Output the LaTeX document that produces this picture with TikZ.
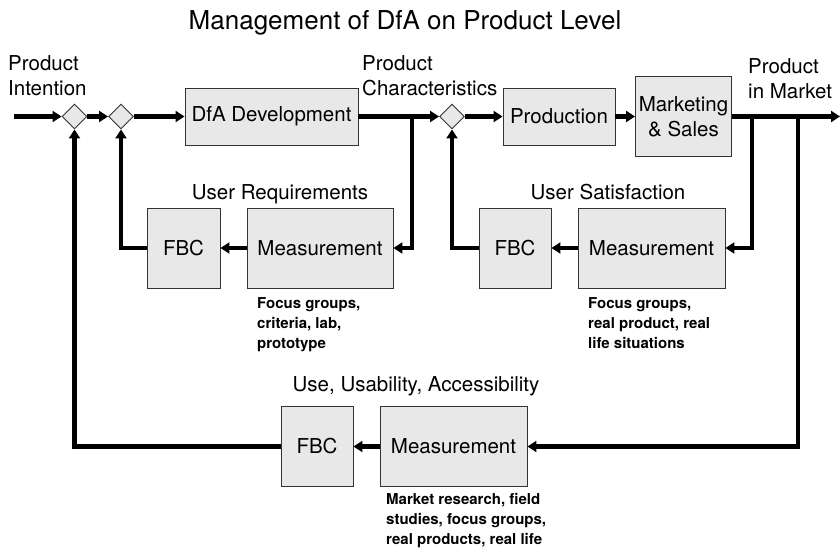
\documentclass[tikz,border=0pt]{standalone}
\usepackage{fontspec}
\setmainfont{TeX Gyre Heros}
\usetikzlibrary{shapes.geometric,arrows.meta}

\begin{document}
\begin{tikzpicture}[x=1pt,y=-1pt,
  block/.style={draw=black!80,fill=black!9,line width=0.9pt,inner sep=0pt,
    font=\fontsize{20.5}{25}\selectfont,align=center},
  junction/.style={diamond,draw=black!80,fill=black!9,line width=0.9pt,
    inner sep=0pt,minimum width=25pt,minimum height=25pt},
  wire/.style={line width=4.2pt},
  flow/.style={wire,-{Triangle[length=9pt,width=11pt]}},
  caption/.style={font=\fontsize{20.5}{25}\selectfont,inner sep=0pt},
  note/.style={font=\bfseries\fontsize{15}{20}\selectfont,align=left,
    anchor=north west,inner sep=0pt}]

\useasboundingbox (0,0) rectangle (840,548);

\node[font=\fontsize{26}{30}\selectfont,anchor=base,inner sep=0pt] (title) at (405,30) {Management of DfA on Product Level};

% forward path
\coordinate (in) at (14,116.5);
\coordinate (out) at (840,116.5);
\node[junction] (d1) at (74.5,116.5) {};
\node[junction] (d2) at (121,116.5) {};
\node[block,minimum width=173pt,minimum height=57pt] (dfa) at (271.5,116.5) {DfA Development};
\node[junction] (d3) at (452,116.5) {};
\node[block,minimum width=112pt,minimum height=57pt] (prod) at (559,116.5) {Production};
\node[block,minimum width=96pt,minimum height=80pt] (mkt) at (683.5,116.5) {Marketing\\\& Sales};

% feedback blocks
\node[block,minimum width=146pt,minimum height=80pt] (meas1) at (320,248) {Measurement};
\node[block,minimum width=73pt,minimum height=80pt] (fbc1) at (183.5,248) {FBC};
\node[block,minimum width=147pt,minimum height=80pt] (meas2) at (651.5,248) {Measurement};
\node[block,minimum width=72pt,minimum height=80pt] (fbc2) at (515,248) {FBC};
\node[block,minimum width=147pt,minimum height=80pt] (meas3) at (453.5,446.5) {Measurement};
\node[block,minimum width=72pt,minimum height=80pt] (fbc3) at (317,446.5) {FBC};

% labels
\node[caption,anchor=north west,align=left] (intention) at (8,55) {Product\\Intention};
\node[caption,anchor=north west,align=left] (characteristics) at (362,55) {Product\\Characteristics};
\node[caption,anchor=north west,align=left] (market) at (748,58) {Product\\in Market};
\node[caption,anchor=base] (req) at (280,200) {User Requirements};
\node[caption,anchor=base] (sat) at (608,200) {User Satisfaction};
\node[caption,anchor=base] (use) at (416,391) {Use, Usability, Accessibility};

\node[note] (note1) at (257,297) {Focus groups,\\criteria, lab,\\prototype};
\node[note] (note2) at (588,297) {Focus groups,\\real product, real\\life situations};
\node[note] (note3) at (386,493) {Market research, field\\studies, focus groups,\\real products, real life};

\draw[flow] (in) -- (d1);
\draw[flow] (d1) -- (d2);
\draw[flow] (d2) -- (dfa);
\draw[flow] (dfa) -- (d3);
\draw[flow] (d3) -- (prod);
\draw[flow] (prod) -- (mkt);
\draw[flow] (mkt) -- (out);

% loops
\coordinate (b1) at (412,116.5);
\coordinate (b2) at (752,116.5);
\coordinate (b3) at (798,116.5);
\draw[flow] (b1) |- (meas1);
\draw[flow] (meas1) -- (fbc1);
\draw[flow] (fbc1) -| (d2);
\draw[flow] (b2) |- (meas2);
\draw[flow] (meas2) -- (fbc2);
\draw[flow] (fbc2) -| (d3);
\draw[flow] (b3) |- (meas3);
\draw[flow] (meas3) -- (fbc3);
\draw[flow] (fbc3) -| (d1);

\end{tikzpicture}
\end{document}
